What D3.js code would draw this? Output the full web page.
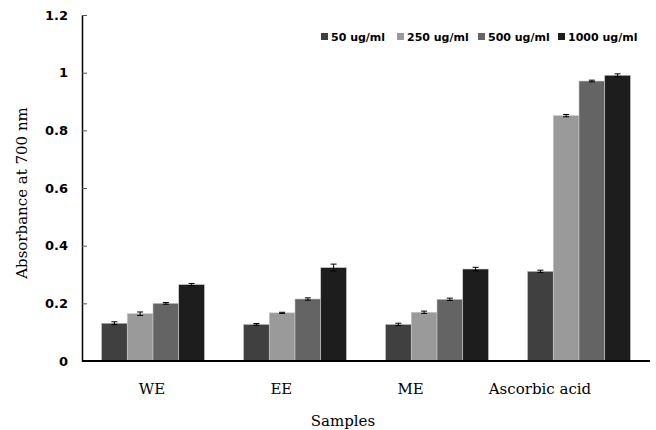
<!DOCTYPE html>
<html>
<head>
<meta charset="utf-8">
<script src="https://cdn.jsdelivr.net/npm/d3@7"></script>
<style>
  body { margin: 0; background: #fff; }
</style>
</head>
<body>
<div id="chart"></div>
<script>
var samples = ["WE", "EE", "ME", "Ascorbic acid"];
var concentrations = ["50 ug/ml", "250 ug/ml", "500 ug/ml", "1000 ug/ml"];
var colors = ["#404040", "#9a9a9a", "#646464", "#1d1d1d"];

// absorbance per concentration, one value per sample
var abs50   = [0.131, 0.127, 0.127, 0.311];
var abs250  = [0.164, 0.167, 0.169, 0.851];
var abs500  = [0.200, 0.215, 0.214, 0.971];
var abs1000 = [0.265, 0.324, 0.319, 0.991];

var err50   = [0.005, 0.003, 0.004, 0.004];
var err250  = [0.006, 0.002, 0.004, 0.004];
var err500  = [0.003, 0.004, 0.004, 0.003];
var err1000 = [0.004, 0.012, 0.006, 0.005];

var yTicks = [0, 0.2, 0.4, 0.6, 0.8, 1, 1.2];

var values = [abs50, abs250, abs500, abs1000];
var errors = [err50, err250, err500, err1000];

var svgWidth = 656;
var svgHeight = 430;
var margin = { top: 15, right: 6, bottom: 69, left: 82 };
var width = svgWidth - margin.left - margin.right;
var height = svgHeight - margin.top - margin.bottom;

var serif = "'DejaVu Serif', serif";
var sans = "'DejaVu Sans', sans-serif";

var svg = d3.select("#chart").append("svg")
    .attr("width", svgWidth).attr("height", svgHeight);

var chartGroup = svg.append("g")
    .attr("transform", `translate(${margin.left}, ${margin.top})`);

var x0 = d3.scaleBand().domain(samples).range([0, width]).paddingInner(0.275).paddingOuter(0.1375);
var x1 = d3.scaleBand().domain(concentrations).range([0, x0.bandwidth()]);
var y = d3.scaleLinear().domain([0, 1.2]).range([height, 0]);

// label positions sit a bit left of the groups in the original
var xLabel = d3.scalePoint().domain(samples).range([152 - margin.left, 540 - margin.left]);

// bars
var rows = [];
samples.forEach(function(s, i) {
    concentrations.forEach(function(c, j) {
        rows.push({ sample: s, conc: c, j: j, v: values[j][i], e: errors[j][i] });
    });
});

var bar = chartGroup.selectAll(".bar").data(rows).enter().append("g")
    .attr("transform", d => `translate(${x0(d.sample) + x1(d.conc)}, 0)`);

bar.append("rect")
    .attr("x", 0)
    .attr("y", d => y(d.v))
    .attr("width", x1.bandwidth())
    .attr("height", d => height - y(d.v))
    .attr("fill", d => colors[d.j])
    .attr("stroke", "#c8c8c8")
    .attr("stroke-width", 0.6);

// error bars
var cx = x1.bandwidth() / 2;
bar.append("line")
    .attr("x1", cx).attr("x2", cx)
    .attr("y1", d => y(d.v + d.e)).attr("y2", d => y(d.v - d.e))
    .attr("stroke", "#000").attr("stroke-width", 1);
bar.append("line")
    .attr("x1", cx - 3).attr("x2", cx + 3)
    .attr("y1", d => y(d.v + d.e)).attr("y2", d => y(d.v + d.e))
    .attr("stroke", "#000").attr("stroke-width", 1);
bar.append("line")
    .attr("x1", cx - 3).attr("x2", cx + 3)
    .attr("y1", d => y(d.v - d.e)).attr("y2", d => y(d.v - d.e))
    .attr("stroke", "#000").attr("stroke-width", 1);

// y axis
var yAxis = d3.axisLeft(y).tickValues(yTicks).tickSizeInner(-5).tickSizeOuter(0)
    .tickFormat(d => d3.format("")(+d.toFixed(1)));
var yg = chartGroup.append("g").call(yAxis);
yg.select(".domain").attr("stroke", "#000").attr("stroke-width", 1.5);
yg.selectAll(".tick line").attr("stroke", "#555");
yg.selectAll(".tick text")
    .attr("x", -14)
    .style("font-family", sans)
    .style("font-weight", "bold")
    .style("font-size", "13px")
    .attr("fill", "#000");

// x axis
chartGroup.append("line")
    .attr("x1", 0).attr("x2", width)
    .attr("y1", height).attr("y2", height)
    .attr("stroke", "#000").attr("stroke-width", 2);

chartGroup.selectAll(".xlabel").data(samples).enter().append("text")
    .attr("x", d => xLabel(d))
    .attr("y", height + 33)
    .attr("text-anchor", "middle")
    .style("font-family", serif)
    .style("font-size", "15px")
    .text(d => d);

// axis titles
svg.append("text")
    .attr("x", 343).attr("y", 426)
    .attr("text-anchor", "middle")
    .style("font-family", serif)
    .style("font-size", "15px")
    .text("Samples");

svg.append("text")
    .attr("transform", "translate(27, 193) rotate(-90)")
    .attr("text-anchor", "middle")
    .style("font-family", serif)
    .style("font-size", "15px")
    .text("Absorbance at 700 nm");

// legend
var legendX = [321, 397, 478, 558];
var legend = svg.selectAll(".legend").data(concentrations).enter().append("g")
    .attr("transform", (d, i) => `translate(${legendX[i]}, 37)`);
legend.append("rect")
    .attr("x", 0).attr("y", -4).attr("width", 7).attr("height", 7)
    .attr("fill", (d, i) => colors[i]);
legend.append("text")
    .attr("x", 10).attr("y", 4)
    .style("font-family", sans)
    .style("font-weight", "bold")
    .style("font-size", "11px")
    .text(d => d);
</script>
</body>
</html>
